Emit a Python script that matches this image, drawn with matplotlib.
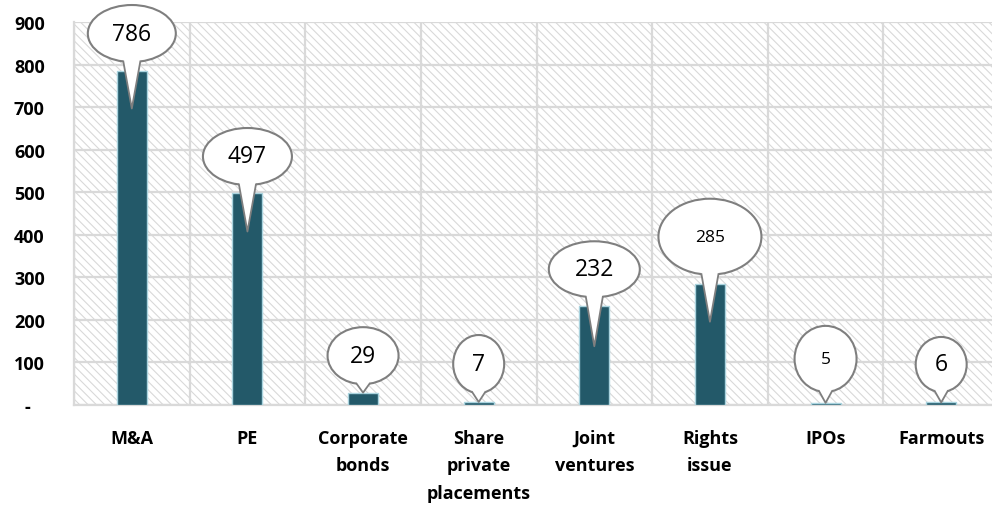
import numpy as np
import matplotlib
matplotlib.use("Agg")
import matplotlib.pyplot as plt
from matplotlib.patches import Ellipse, Polygon

categories = ["M&A", "PE", "Corporate\nbonds", "Share\nprivate\nplacements",
              "Joint\nventures", "Rights\nissue", "IPOs", "Farmouts"]
values = [786, 497, 29, 7, 232, 285, 5, 6]
y_ticks = [0, 100, 200, 300, 400, 500, 600, 700, 800, 900]
y_tick_labels = ["-   ", "100", "200", "300", "400", "500", "600", "700", "800", "900"]

# callout look, in pixels: (rise of bubble centre above bar top, width, height, tip rise, font size)
callouts = [(37, 88, 57, -38, 16.5), (37, 89, 57, -38, 16.5), (37, 71, 57, 0, 16.5),
            (38, 51, 58, 0, 16.5), (37, 91, 56, -40, 16.5), (47, 103, 76, -38, 12.5),
            (44, 62, 66, 0, 12.5), (38, 51, 55, 0, 16.5)]

plt.rcParams["font.family"] = ["Open Sans", "DejaVu Sans"]
plt.rcParams["hatch.linewidth"] = 0.8

W, H = 992, 510
fig = plt.figure(figsize=(W / 100, H / 100), dpi=100)
ax_left, ax_right, ax_bottom, ax_top = 74, 999, 406, 23
ax = fig.add_axes([ax_left / W, 1 - ax_bottom / H, (ax_right - ax_left) / W, (ax_bottom - ax_top) / H])

x = np.arange(len(values))
ax.bar(x, values, width=0.26, color="#235969", edgecolor="#a9d3de", linewidth=1.0, zorder=3)

ax.set_xlim(-0.5, len(values) - 0.5)
ax.set_ylim(0, 900)

# hatched background
ax.patch.set_facecolor("white")
ax.patch.set_edgecolor("#d9d9d9")
ax.patch.set_hatch("\\\\\\\\")
ax.patch.set_linewidth(0)

ax.set_yticks(y_ticks)
ax.set_yticklabels(y_tick_labels, fontsize=13, fontweight="bold")
ax.set_xticks(x)
ax.set_xticklabels(categories, fontsize=13, fontweight="bold", linespacing=1.68, va="top")
ax.set_xticks(np.arange(-0.5, len(values), 1), minor=True)
ax.tick_params(axis="both", which="both", length=0)
ax.tick_params(axis="y", pad=21)
ax.tick_params(axis="x", pad=17)
ax.grid(axis="y", which="major", color="#d9d9d9", linewidth=1.6, zorder=1)
ax.grid(axis="x", which="minor", color="#d9d9d9", linewidth=1.6, zorder=1)
ax.grid(axis="x", which="major", visible=False)
ax.set_axisbelow(True)
for s in ax.spines.values():
    s.set_color("#d9d9d9")
    s.set_linewidth(1.6)
ax.spines["right"].set_visible(False)
ax.spines["top"].set_visible(False)

# pixel -> data scales
px_x = (len(values)) / (ax_right - ax_left)
px_y = 900 / (ax_bottom - ax_top)

for xi, v, (rise, w, h, tip, fs) in zip(x, values, callouts):
    cx, cy = xi, v + rise * px_y
    a, b = w / 2, h / 2
    half_base = 8.5 if tip < 0 else 6.5
    yb = -b * np.sqrt(1 - (half_base / a) ** 2)
    tip_y = v + tip * px_y
    left = (cx - half_base * px_x, cy + yb * px_y)
    right = (cx + half_base * px_x, cy + yb * px_y)
    tipp = (cx, tip_y)
    ax.add_patch(Ellipse((cx, cy), w * px_x, h * px_y, facecolor="white",
                         edgecolor="#7f7f7f", linewidth=1.5, zorder=5, clip_on=False))
    ax.add_patch(Polygon([left, (left[0], left[1] + 4 * px_y), (right[0], right[1] + 4 * px_y), right, tipp],
                         closed=True, facecolor="white", edgecolor="none", zorder=6, clip_on=False))
    ax.plot([left[0], tipp[0], right[0]], [left[1], tipp[1], right[1]], color="#7f7f7f",
            linewidth=1.3, zorder=6, clip_on=False)
    ax.text(cx, cy, str(v), ha="center", va="center", fontsize=fs, zorder=7)

fig.savefig("out.png", dpi=100)
